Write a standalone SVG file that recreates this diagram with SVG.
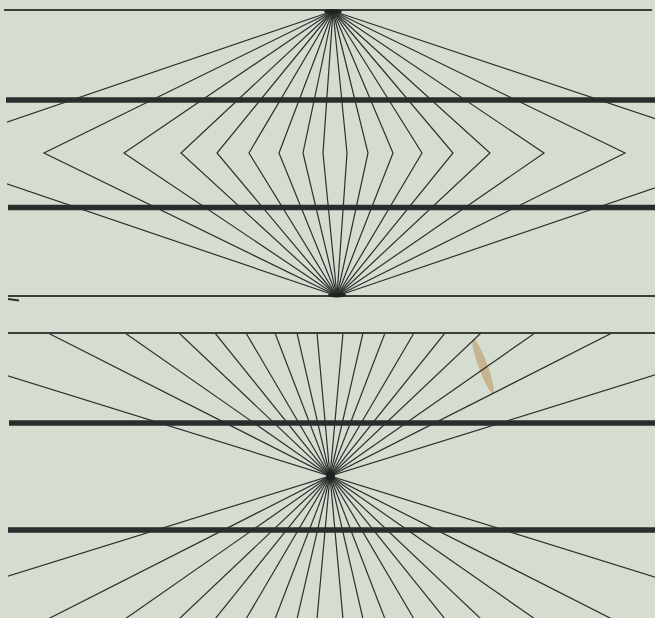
<svg xmlns="http://www.w3.org/2000/svg" width="655" height="618" viewBox="0 0 655 618">
<defs>
<style>
.thin{stroke:#2c302e;stroke-width:1.2;fill:none;stroke-linejoin:miter}
.ref{stroke:#3a3e3c;stroke-width:2;fill:none}
.thick{stroke:#2a2d2b;stroke-width:5.5;fill:none}
.blob{fill:#1f2321}
</style>
<clipPath id="clipTop"><rect x="7" y="0" width="648" height="300"/></clipPath>
<clipPath id="clipBot"><rect x="8" y="333" width="647" height="285"/></clipPath>
</defs>
<rect x="0" y="0" width="655" height="618" fill="#d5dcd0"/>
<ellipse cx="483" cy="366" rx="4.5" ry="29" fill="#b8945a" opacity="0.55" transform="rotate(-20 483 366)"/>

<g id="top-figure">
  <g id="top-rays" clip-path="url(#clipTop)">
    <polyline class="thin" points="333,11 -84,153 337,296"/>
    <polyline class="thin" points="333,11 44,153 337,296"/>
    <polyline class="thin" points="333,11 124,153 337,296"/>
    <polyline class="thin" points="333,11 181,153 337,296"/>
    <polyline class="thin" points="333,11 217,153 337,296"/>
    <polyline class="thin" points="333,11 249,153 337,296"/>
    <polyline class="thin" points="333,11 279,153 337,296"/>
    <polyline class="thin" points="333,11 303,153 337,296"/>
    <polyline class="thin" points="333,11 323,153 337,296"/>
    <polyline class="thin" points="333,11 347,153 337,296"/>
    <polyline class="thin" points="333,11 368,153 337,296"/>
    <polyline class="thin" points="333,11 393,153 337,296"/>
    <polyline class="thin" points="333,11 422,153 337,296"/>
    <polyline class="thin" points="333,11 453,153 337,296"/>
    <polyline class="thin" points="333,11 490,153 337,296"/>
    <polyline class="thin" points="333,11 544,153 337,296"/>
    <polyline class="thin" points="333,11 625,153 337,296"/>
    <polyline class="thin" points="333,11 758,153 337,296"/>
  </g>
  <line class="ref" x1="4" y1="10" x2="652" y2="10"/>
  <line class="ref" x1="8" y1="296" x2="655" y2="296"/>
  <line class="thick" x1="6" y1="100" x2="655" y2="100"/>
  <line class="thick" x1="8" y1="207.5" x2="655" y2="207.5"/>
  <ellipse class="blob" cx="333" cy="11.5" rx="9" ry="2.5"/>
  <ellipse class="blob" cx="337" cy="295" rx="9" ry="2.5"/>
  <line stroke="#2c302e" stroke-width="2" x1="8" y1="299" x2="19" y2="300.5"/>
</g>

<g id="bottom-figure">
  <g id="bottom-rays" clip-path="url(#clipBot)">
    <line class="thin" x1="-130" y1="333" x2="790" y2="619"/>
    <line class="thin" x1="48" y1="333" x2="612" y2="619"/>
    <line class="thin" x1="125" y1="333" x2="535" y2="619"/>
    <line class="thin" x1="179" y1="333" x2="481" y2="619"/>
    <line class="thin" x1="215" y1="333" x2="445" y2="619"/>
    <line class="thin" x1="246" y1="333" x2="414" y2="619"/>
    <line class="thin" x1="275" y1="333" x2="385" y2="619"/>
    <line class="thin" x1="297" y1="333" x2="363" y2="619"/>
    <line class="thin" x1="317" y1="333" x2="343" y2="619"/>
    <line class="thin" x1="343" y1="333" x2="317" y2="619"/>
    <line class="thin" x1="363" y1="333" x2="297" y2="619"/>
    <line class="thin" x1="385" y1="333" x2="275" y2="619"/>
    <line class="thin" x1="414" y1="333" x2="246" y2="619"/>
    <line class="thin" x1="445" y1="333" x2="215" y2="619"/>
    <line class="thin" x1="481" y1="333" x2="179" y2="619"/>
    <line class="thin" x1="535" y1="333" x2="125" y2="619"/>
    <line class="thin" x1="612" y1="333" x2="48" y2="619"/>
    <line class="thin" x1="790" y1="333" x2="-130" y2="619"/>
  </g>
  <line class="ref" x1="8" y1="333" x2="655" y2="333"/>
  <line class="thick" x1="9" y1="423" x2="655" y2="423"/>
  <line class="thick" x1="8" y1="530" x2="655" y2="530"/>
  <ellipse class="blob" cx="330.5" cy="476" rx="4.5" ry="5"/>
</g>
</svg>
